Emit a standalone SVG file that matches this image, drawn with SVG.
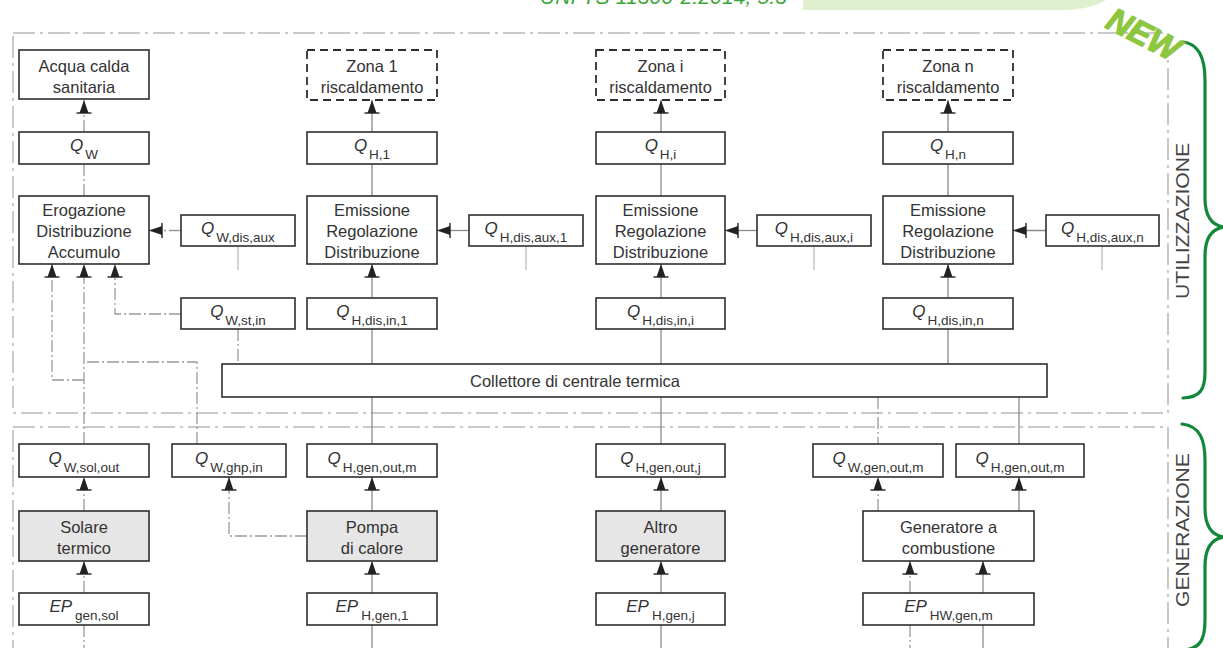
<svg xmlns="http://www.w3.org/2000/svg" width="1223" height="648" viewBox="0 0 1223 648">
<defs>
<style>
.bx{fill:#fff;stroke:#2e2e2e;stroke-width:1.6}
.gx{fill:#e6e6e6;stroke:#2e2e2e;stroke-width:1.6}
.dz{fill:#fff;stroke:#2e2e2e;stroke-width:1.8;stroke-dasharray:8 5}
.area{fill:none;stroke:#b8b8b8;stroke-width:1.5;stroke-dasharray:22 5 3 5}
.t{font-family:"Liberation Sans",Arial,sans-serif;font-size:16.5px;fill:#333;text-anchor:middle}
.q{font-family:"Liberation Sans",Arial,sans-serif;font-size:17px;fill:#333;text-anchor:middle}
.qi{font-style:italic}
.sub{font-size:13.5px}
.s{fill:none;stroke:#8c8c8c;stroke-width:1.3}
.d{fill:none;stroke:#9a9a9a;stroke-width:1.3;stroke-dasharray:12 3 2 3}
.stub{fill:none;stroke:#b0b0b0;stroke-width:1.1}
.side{font-family:"Liberation Sans",Arial,sans-serif;font-size:19px;fill:#444;text-anchor:middle}
.brace{fill:none;stroke:#13873a;stroke-width:3.2;stroke-linecap:round}
</style>
<marker id="arr" viewBox="-14 -8 15 16" refX="0" refY="0" markerWidth="15" markerHeight="16" markerUnits="userSpaceOnUse" orient="auto">
<path d="M0,0 L-13,-4.5 L-13,4.5 Z" fill="#222"/>
<path d="M-13,-7.5 L-13,7.5" stroke="#222" stroke-width="1.4"/>
</marker>
</defs>
<rect width="1223" height="648" fill="#fff"/>

<g id="header">
<path d="M803,0 L803,10 L1065,10 Q1092,9 1106,0 Z" fill="#e0f0cf"/>
<text x="540" y="4" font-family="Liberation Sans,Arial,sans-serif" font-size="21" font-style="italic" fill="#3aa635" textLength="247">UNI TS 11300-2:2014, 5.3</text>
</g>

<g id="areas">
<rect class="area" x="13" y="33" width="1155" height="380"/>
<rect class="area" x="13" y="427" width="1155" height="240"/>
</g>

<g id="labels">
<text class="side" transform="translate(1189,221) rotate(-90)" textLength="156" lengthAdjust="spacingAndGlyphs">UTILIZZAZIONE</text>
<text class="side" transform="translate(1189,530) rotate(-90)" textLength="154" lengthAdjust="spacingAndGlyphs">GENERAZIONE</text>
<path class="brace" d="M1183,42 C1200,44 1205,60 1205,80 L1205,198 C1205,216 1212,225 1223,227 C1212,229 1205,238 1205,256 L1205,372 C1205,390 1200,397 1183,398"/>
<path class="brace" d="M1182,424 C1200,426 1205,440 1205,460 L1205,508 C1205,526 1212,535 1223,537 C1212,539 1205,548 1205,566 L1205,620 C1205,640 1200,648 1185,650"/>
<text x="1104" y="27" transform="rotate(27 1104 27)" font-family="Liberation Sans,Arial,sans-serif" font-size="33" font-weight="bold" font-style="italic" fill="#8dc63f" stroke="#8dc63f" stroke-width="1.2">NEW</text>
</g>

<g id="connectors">
<path class="d" d="M84,132 V100" marker-end="url(#arr)"/>
<path class="s" d="M372,132 V100" marker-end="url(#arr)"/>
<path class="s" d="M661,132 V100" marker-end="url(#arr)"/>
<path class="s" d="M948,132 V100" marker-end="url(#arr)"/>
<path class="d" d="M84,164 V196"/>
<path class="s" d="M372,164 V196"/>
<path class="s" d="M661,164 V196"/>
<path class="s" d="M948,164 V196"/>
<path class="d" d="M181,230.5 H149" marker-end="url(#arr)"/>
<path class="s" d="M469,230.5 H437" marker-end="url(#arr)"/>
<path class="s" d="M757,230.5 H725" marker-end="url(#arr)"/>
<path class="s" d="M1046,230.5 H1013" marker-end="url(#arr)"/>
<path class="stub" d="M238,246 V270"/>
<path class="stub" d="M526,246 V270"/>
<path class="stub" d="M814,246 V270"/>
<path class="stub" d="M1102,246 V270"/>
<path class="s" d="M372,298 V264" marker-end="url(#arr)"/>
<path class="s" d="M661,298 V264" marker-end="url(#arr)"/>
<path class="s" d="M948,298 V264" marker-end="url(#arr)"/>
<path class="s" d="M372,329 V364"/>
<path class="s" d="M661,329 V364"/>
<path class="s" d="M948,329 V364"/>
<path class="d" d="M181,314 H115 V264" marker-end="url(#arr)"/>
<path class="d" d="M238,329 V364"/>
<path class="d" d="M84,444 V264" marker-end="url(#arr)"/>
<path class="d" d="M84,380 H52 V264" marker-end="url(#arr)"/>
<path class="d" d="M197,444 V362 H84"/>
<path class="s" d="M372,397 V444"/>
<path class="s" d="M661,397 V444"/>
<path class="d" d="M878,397 V444"/>
<path class="s" d="M1019,397 V444"/>
<path class="d" d="M84,511 V477" marker-end="url(#arr)"/>
<path class="d" d="M84,593 V561" marker-end="url(#arr)"/>
<path class="d" d="M84,625 V650"/>
<path class="s" d="M372,511 V477" marker-end="url(#arr)"/>
<path class="s" d="M372,593 V561" marker-end="url(#arr)"/>
<path class="s" d="M372,625 V650"/>
<path class="d" d="M307,536 H229 V477" marker-end="url(#arr)"/>
<path class="s" d="M661,511 V477" marker-end="url(#arr)"/>
<path class="s" d="M661,593 V561" marker-end="url(#arr)"/>
<path class="s" d="M661,625 V650"/>
<path class="d" d="M878,511 V477" marker-end="url(#arr)"/>
<path class="s" d="M1019,511 V477" marker-end="url(#arr)"/>
<path class="d" d="M910,593 V561" marker-end="url(#arr)"/>
<path class="s" d="M983,593 V561" marker-end="url(#arr)"/>
<path class="d" d="M910,625 V650"/>
<path class="s" d="M983,625 V650"/>
</g>

<g id="acqua"><rect class="bx" x="19" y="50" width="130" height="49"/><text class="t" x="84" y="72">Acqua calda</text><text class="t" x="84" y="93">sanitaria</text></g>
<g id="zona1"><rect class="dz" x="307" y="50" width="130" height="50"/><text class="t" x="372" y="72">Zona 1</text><text class="t" x="372" y="93">riscaldamento</text></g>
<g id="zonai"><rect class="dz" x="596" y="50" width="129" height="50"/><text class="t" x="660.5" y="72">Zona i</text><text class="t" x="660.5" y="93">riscaldamento</text></g>
<g id="zonan"><rect class="dz" x="883" y="50" width="130" height="50"/><text class="t" x="948" y="72">Zona n</text><text class="t" x="948" y="93">riscaldamento</text></g>

<g id="qw"><rect class="bx" x="19" y="132" width="130" height="32"/><text class="q" x="84" y="151"><tspan class="qi">Q</tspan><tspan class="sub" dx="2" dy="8">W</tspan></text></g>
<g id="qh1"><rect class="bx" x="307" y="132" width="130" height="32"/><text class="q" x="372" y="151"><tspan class="qi">Q</tspan><tspan class="sub" dx="2" dy="8">H,1</tspan></text></g>
<g id="qhi"><rect class="bx" x="596" y="132" width="129" height="32"/><text class="q" x="660.5" y="151"><tspan class="qi">Q</tspan><tspan class="sub" dx="2" dy="8">H,i</tspan></text></g>
<g id="qhn"><rect class="bx" x="883" y="132" width="130" height="32"/><text class="q" x="948" y="151"><tspan class="qi">Q</tspan><tspan class="sub" dx="2" dy="8">H,n</tspan></text></g>

<g id="erog"><rect class="bx" x="19" y="196" width="130" height="68"/><text class="t" x="84" y="216">Erogazione</text><text class="t" x="84" y="237">Distribuzione</text><text class="t" x="84" y="258">Accumulo</text></g>
<g id="emis1"><rect class="bx" x="307" y="196" width="130" height="68"/><text class="t" x="372" y="216">Emissione</text><text class="t" x="372" y="237">Regolazione</text><text class="t" x="372" y="258">Distribuzione</text></g>
<g id="emisi"><rect class="bx" x="596" y="196" width="129" height="68"/><text class="t" x="660.5" y="216">Emissione</text><text class="t" x="660.5" y="237">Regolazione</text><text class="t" x="660.5" y="258">Distribuzione</text></g>
<g id="emisn"><rect class="bx" x="883" y="196" width="130" height="68"/><text class="t" x="948" y="216">Emissione</text><text class="t" x="948" y="237">Regolazione</text><text class="t" x="948" y="258">Distribuzione</text></g>

<g id="qwaux"><rect class="bx" x="181" y="215" width="114" height="31"/><text class="q" x="238" y="233.5"><tspan class="qi">Q</tspan><tspan class="sub" dx="2" dy="8">W,dis,aux</tspan></text></g>
<g id="qhaux1"><rect class="bx" x="469" y="215" width="114" height="31"/><text class="q" x="526" y="233.5"><tspan class="qi">Q</tspan><tspan class="sub" dx="2" dy="8">H,dis,aux,1</tspan></text></g>
<g id="qhauxi"><rect class="bx" x="757" y="215" width="114" height="31"/><text class="q" x="814" y="233.5"><tspan class="qi">Q</tspan><tspan class="sub" dx="2" dy="8">H,dis,aux,i</tspan></text></g>
<g id="qhauxn"><rect class="bx" x="1046" y="215" width="113" height="31"/><text class="q" x="1102.5" y="233.5"><tspan class="qi">Q</tspan><tspan class="sub" dx="2" dy="8">H,dis,aux,n</tspan></text></g>

<g id="qwst"><rect class="bx" x="181" y="298" width="114" height="31"/><text class="q" x="238" y="316.5"><tspan class="qi">Q</tspan><tspan class="sub" dx="2" dy="8">W,st,in</tspan></text></g>
<g id="qhdis1"><rect class="bx" x="307" y="298" width="130" height="31"/><text class="q" x="372" y="316.5"><tspan class="qi">Q</tspan><tspan class="sub" dx="2" dy="8">H,dis,in,1</tspan></text></g>
<g id="qhdisi"><rect class="bx" x="596" y="298" width="129" height="31"/><text class="q" x="660.5" y="316.5"><tspan class="qi">Q</tspan><tspan class="sub" dx="2" dy="8">H,dis,in,i</tspan></text></g>
<g id="qhdisn"><rect class="bx" x="883" y="298" width="130" height="31"/><text class="q" x="948" y="316.5"><tspan class="qi">Q</tspan><tspan class="sub" dx="2" dy="8">H,dis,in,n</tspan></text></g>

<g id="collettore"><rect class="bx" x="222" y="364" width="825" height="33"/><text class="t" x="575" y="387">Collettore di centrale termica</text></g>

<g id="qwsol"><rect class="bx" x="19" y="444" width="130" height="33"/><text class="q" x="84" y="463.5"><tspan class="qi">Q</tspan><tspan class="sub" dx="2" dy="8">W,sol,out</tspan></text></g>
<g id="qwghp"><rect class="bx" x="172" y="444" width="114" height="33"/><text class="q" x="229" y="463.5"><tspan class="qi">Q</tspan><tspan class="sub" dx="2" dy="8">W,ghp,in</tspan></text></g>
<g id="qhgen1"><rect class="bx" x="307" y="444" width="130" height="33"/><text class="q" x="372" y="463.5"><tspan class="qi">Q</tspan><tspan class="sub" dx="2" dy="8">H,gen,out,m</tspan></text></g>
<g id="qhgenj"><rect class="bx" x="596" y="444" width="129" height="33"/><text class="q" x="660.5" y="463.5"><tspan class="qi">Q</tspan><tspan class="sub" dx="2" dy="8">H,gen,out,j</tspan></text></g>
<g id="qwgenm"><rect class="bx" x="813" y="444" width="130" height="33"/><text class="q" x="878" y="463.5"><tspan class="qi">Q</tspan><tspan class="sub" dx="2" dy="8">W,gen,out,m</tspan></text></g>
<g id="qhgenm"><rect class="bx" x="956" y="444" width="128" height="33"/><text class="q" x="1020" y="463.5"><tspan class="qi">Q</tspan><tspan class="sub" dx="2" dy="8">H,gen,out,m</tspan></text></g>

<g id="solare"><rect class="gx" x="19" y="511" width="130" height="50"/><text class="t" x="84" y="533">Solare</text><text class="t" x="84" y="554">termico</text></g>
<g id="pompa"><rect class="gx" x="307" y="511" width="130" height="50"/><text class="t" x="372" y="533">Pompa</text><text class="t" x="372" y="554">di calore</text></g>
<g id="altro"><rect class="gx" x="596" y="511" width="129" height="50"/><text class="t" x="660.5" y="533">Altro</text><text class="t" x="660.5" y="554">generatore</text></g>
<g id="combustione"><rect class="bx" x="863" y="511" width="171" height="50"/><text class="t" x="948.5" y="533">Generatore a</text><text class="t" x="948.5" y="554">combustione</text></g>

<g id="epsol"><rect class="bx" x="19" y="593" width="130" height="32"/><text class="q" x="84" y="612"><tspan class="qi">EP</tspan><tspan class="sub" dx="3" dy="8">gen,sol</tspan></text></g>
<g id="eph1"><rect class="bx" x="307" y="593" width="130" height="32"/><text class="q" x="372" y="612"><tspan class="qi">EP</tspan><tspan class="sub" dx="3" dy="8">H,gen,1</tspan></text></g>
<g id="ephj"><rect class="bx" x="596" y="593" width="129" height="32"/><text class="q" x="660.5" y="612"><tspan class="qi">EP</tspan><tspan class="sub" dx="3" dy="8">H,gen,j</tspan></text></g>
<g id="ephw"><rect class="bx" x="863" y="593" width="171" height="32"/><text class="q" x="948.5" y="612"><tspan class="qi">EP</tspan><tspan class="sub" dx="3" dy="8">HW,gen,m</tspan></text></g>
</svg>
